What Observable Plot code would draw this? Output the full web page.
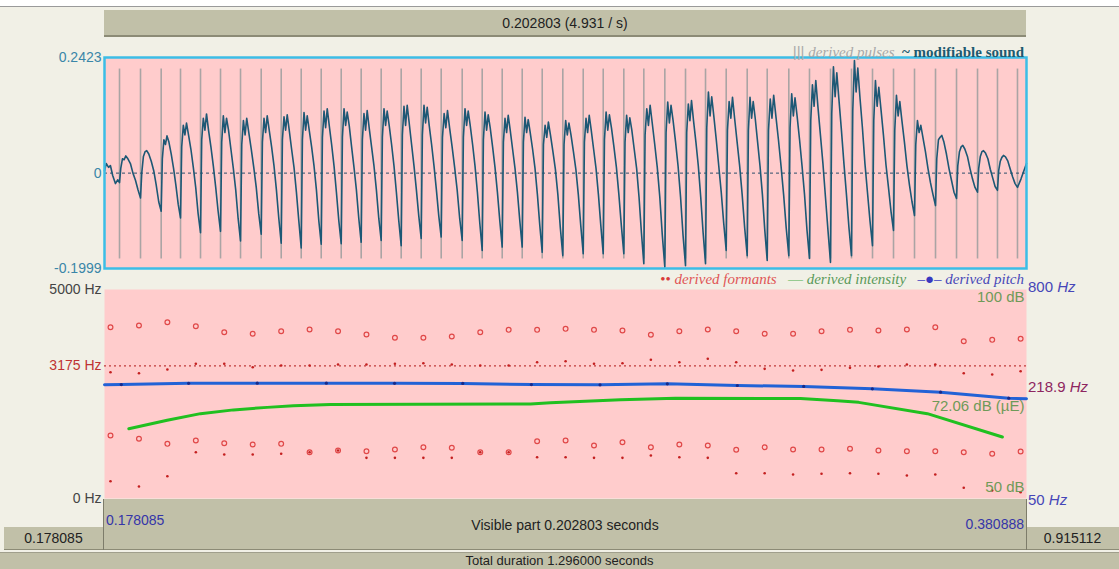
<!DOCTYPE html>
<html><head><meta charset="utf-8">
<script src="https://cdn.jsdelivr.net/npm/d3@7"></script>
<script src="https://cdn.jsdelivr.net/npm/@observablehq/plot@0.6"></script>
<style>
body{margin:0;background:#f1f0e6;font-family:"Liberation Sans",Arial,sans-serif;}
#root{position:relative;width:1119px;height:569px;overflow:hidden;background:#f1f0e6;}
#root svg{position:absolute;left:0;}
.box{position:absolute;background:#c1c0a8;}
.t{position:absolute;white-space:nowrap;font-size:14px;color:#222;}
.lg{position:absolute;white-space:nowrap;font-family:"Liberation Serif","Times New Roman",serif;font-size:15px;}
</style></head><body><div id="root"></div>
<script>
// ---- data (time in ms after the start of the visible part, 0.178085 s) ----
const visibleStart = 0.178085, visibleEnd = 0.380888, totalDuration = 1.296;
const visibleMs = 202.803;
const ampMax = 0.2423, ampMin = -0.1999;

const pulses = [3.30, 7.92, 12.47, 16.72, 21.12, 25.52, 29.92, 34.47, 38.87, 43.27, 47.67, 52.07, 56.46, 60.86, 65.26, 69.66, 74.06, 78.68, 83.08, 87.48, 91.88, 96.28, 100.81, 105.30, 109.70, 114.23, 118.63, 123.25, 127.80, 132.20, 136.75, 141.37, 145.77, 150.52, 155.07, 159.69, 164.31, 168.93, 173.55, 178.17, 182.79, 187.41, 192.03, 196.42, 200.82];

// sample positions inside one glottal period (fraction of the period)
const waveFrac = [0, 0.06, 0.14, 0.22, 0.30, 0.40, 0.52, 0.64, 0.76, 0.88];
const waveLead = [[0, 0.005], [0.4, 0.02], [0.9, 0.012], [1.3, 0.016], [1.8, -0.005], [2.4, -0.022], [2.9, -0.014]];
const wavePeriods = [
[-0.020,0.010,0.030,0.028,0.036,0.030,0.020,0.000,-0.015,-0.035],
[-0.052,0.000,0.035,0.045,0.047,0.040,0.025,0.005,-0.025,-0.060],
[-0.080,0.030,0.070,0.060,0.078,0.065,0.040,0.010,-0.025,-0.065],
[-0.094,0.055,0.100,0.080,0.105,0.080,0.050,0.012,-0.030,-0.085],
[-0.125,0.070,0.115,0.090,0.124,0.090,0.055,0.015,-0.030,-0.080],
[-0.122,0.065,0.120,0.085,0.115,0.090,0.050,0.010,-0.035,-0.095],
[-0.142,0.060,0.110,0.080,0.115,0.085,0.050,0.012,-0.030,-0.085],
[-0.128,0.065,0.115,0.085,0.120,0.090,0.055,0.015,-0.035,-0.095],
[-0.147,0.070,0.118,0.090,0.122,0.090,0.050,0.012,-0.040,-0.100],
[-0.157,0.070,0.127,0.090,0.120,0.090,0.055,0.015,-0.035,-0.100],
[-0.149,0.075,0.130,0.095,0.135,0.100,0.060,0.015,-0.040,-0.100],
[-0.148,0.075,0.135,0.100,0.128,0.100,0.055,0.012,-0.035,-0.095],
[-0.145,0.070,0.125,0.090,0.131,0.095,0.055,0.015,-0.035,-0.095],
[-0.141,0.075,0.135,0.100,0.130,0.100,0.060,0.015,-0.040,-0.100],
[-0.152,0.080,0.140,0.100,0.142,0.105,0.060,0.015,-0.035,-0.090],
[-0.137,0.080,0.142,0.105,0.138,0.100,0.060,0.015,-0.035,-0.090],
[-0.134,0.075,0.125,0.095,0.131,0.095,0.055,0.012,-0.035,-0.095],
[-0.141,0.075,0.135,0.100,0.130,0.100,0.060,0.015,-0.040,-0.105],
[-0.162,0.070,0.128,0.090,0.122,0.095,0.055,0.012,-0.040,-0.100],
[-0.155,0.065,0.115,0.085,0.121,0.090,0.050,0.010,-0.040,-0.100],
[-0.155,0.065,0.117,0.085,0.112,0.085,0.050,0.010,-0.045,-0.110],
[-0.166,0.060,0.100,0.075,0.107,0.080,0.045,0.008,-0.045,-0.115],
[-0.173,0.060,0.110,0.080,0.105,0.080,0.045,0.008,-0.045,-0.110],
[-0.169,0.065,0.115,0.085,0.121,0.090,0.050,0.010,-0.045,-0.110],
[-0.169,0.070,0.128,0.090,0.122,0.095,0.055,0.012,-0.045,-0.110],
[-0.169,0.065,0.121,0.085,0.116,0.090,0.050,0.010,-0.050,-0.125],
[-0.190,0.080,0.135,0.100,0.142,0.105,0.060,0.012,-0.050,-0.130],
[-0.197,0.085,0.149,0.105,0.142,0.110,0.065,0.015,-0.050,-0.130],
[-0.194,0.085,0.145,0.110,0.152,0.110,0.065,0.015,-0.050,-0.125],
[-0.190,0.095,0.170,0.120,0.160,0.120,0.070,0.015,-0.040,-0.105],
[-0.162,0.090,0.150,0.115,0.159,0.115,0.065,0.015,-0.045,-0.115],
[-0.173,0.090,0.159,0.115,0.150,0.115,0.065,0.015,-0.045,-0.120],
[-0.183,0.090,0.155,0.115,0.163,0.120,0.070,0.015,-0.045,-0.115],
[-0.173,0.095,0.166,0.120,0.158,0.120,0.070,0.015,-0.045,-0.120],
[-0.179,0.110,0.185,0.140,0.194,0.140,0.080,0.020,-0.050,-0.120],
[-0.187,0.125,0.223,0.160,0.210,0.155,0.090,0.020,-0.045,-0.115],
[-0.173,0.130,0.236,0.170,0.220,0.160,0.095,0.020,-0.040,-0.100],
[-0.152,0.110,0.194,0.140,0.180,0.135,0.080,0.018,-0.030,-0.080],
[-0.120,0.090,0.163,0.120,0.150,0.110,0.065,0.015,-0.025,-0.060],
[-0.089,0.060,0.110,0.085,0.100,0.075,0.045,0.010,-0.020,-0.045],
[-0.068,0.030,0.070,0.075,0.079,0.065,0.040,0.010,-0.015,-0.040],
[-0.053,0.015,0.045,0.055,0.058,0.050,0.035,0.010,-0.012,-0.030],
[-0.040,0.010,0.035,0.045,0.047,0.042,0.030,0.008,-0.010,-0.028],
[-0.036,0.005,0.025,0.033,0.037,0.034,0.025,0.008,-0.008,-0.022]
];
const waveTail = [[200.82, -0.030], [201.6, -0.012], [202.8, 0.020]];

const formantTimes = [1.32, 7.58, 13.83, 20.09, 26.34, 32.60, 38.86, 45.11, 51.37, 57.62, 63.88, 70.14, 76.39, 82.65, 88.90, 95.16, 101.42, 107.67, 113.93, 120.18, 126.44, 132.70, 138.95, 145.21, 151.46, 157.72, 163.98, 170.23, 176.49, 182.74, 189.00, 195.26, 201.51];
const formantHighCircles = [4098, 4138, 4217, 4121, 3978, 3940, 4002, 4042, 4002, 3923, 3844, 3844, 3875, 3978, 4035, 4035, 4059, 4035, 4019, 3916, 4002, 4042, 4002, 3940, 3940, 4002, 4035, 4019, 4042, 4098, 3763, 3796, 3820];
const formantMidDots = [3021, 2997, 3086, 3222, 3222, 3141, 3181, 3181, 3205, 3205, 3222, 3236, 3205, 3181, 3181, 3260, 3284, 3222, 3236, 3318, 3260, 3342, 3260, 3102, 3062, 3078, 3126, 3157, 3205, 3205, 2997, 2966, 3045];
const formantLowCircles = [1507, 1428, 1308, 1387, 1323, 1292, 1308, 1108, 1148, 1131, 1172, 1227, 1213, 1108, 1108, 1371, 1387, 1268, 1347, 1227, 1292, 1268, 1165, 1227, 1172, 1172, 1189, 1148, 1131, 1131, 1108, 1069, 1124];
const formantLowDots = [null, null, null, 1108, 1052, 1052, 1069, 1108, 1148, 973, 973, 973, 973, 1108, 1108, 988, 988, 973, 973, 1029, 988, 973, 605, 605, 574, 591, 605, 591, 550, 574, 256, 191, 151];
const formantBottomDots = [414, 287, 533, null, null, null, null, null, null, null, null, null, null, null, null, null, null, null, null, null, null, null, null, null, null, null, null, null, null, null, null, null, null];
const formantLine = 3175;

const pitchTimes = [0, 3.7, 18.5, 33.6, 48.8, 63.8, 78.8, 93.9, 109.0, 123.8, 139.2, 153.8, 168.9, 183.9, 198.9, 202.8];
const pitchHz = [226.0, 226.5, 230.5, 230.8, 230.8, 230.5, 230.0, 226.5, 226.0, 229.0, 223.9, 221.0, 214.3, 204.8, 189.2, 187.7];
const pitchMin = 50, pitchMax = 800, pitchCursor = 218.9;

const intensityTimes = [5.35, 13.79, 21.12, 28.37, 35.79, 41.57, 49.71, 93.70, 98.1, 113.5, 125.6, 153.1, 161.2, 165.9, 181.0, 197.5];
const intensityDb = [66.7, 68.7, 70.3, 71.2, 71.8, 72.2, 72.5, 72.6, 72.9, 73.6, 74.0, 73.9, 73.4, 73.0, 70.3, 64.7];
const dbMin = 50, dbMax = 100, dbMean = 72.06;

const waveTicks = [ampMin, 0, ampMax];
const freqTicks = [0, 5000];

// ---- build ----
const root = document.getElementById("root");
function el(cls, css, html) { const d = document.createElement("div"); d.className = cls; Object.assign(d.style, css); if (html != null) d.innerHTML = html; root.appendChild(d); return d; }

el("box", {left: "0px", top: "0px", width: "1119px", height: "6px", background: "#ffffff", borderBottom: "1px solid #9a9a9a"});
el("box", {left: "104px", top: "10px", width: "922px", height: "25px", borderBottom: "2px solid #8c8b76"});
el("t", {left: "104px", top: "10px", width: "922px", lineHeight: "26px", textAlign: "center"}, `${(visibleEnd - visibleStart).toFixed(6)} (${(1 / (visibleEnd - visibleStart)).toFixed(3)} / s)`);

const fontFam = "Liberation Sans, Arial, sans-serif";
const wave = [];
waveLead.forEach(([t, v]) => wave.push({t, v}));
wavePeriods.forEach((row, k) => {
  const a = pulses[k], b = pulses[k + 1];
  row.forEach((v, i) => wave.push({t: a + waveFrac[i] * (b - a), v}));
});
waveTail.forEach(([t, v]) => wave.push({t, v}));

const waveTop = 40;
const wavePlot = Plot.plot({
  width: 1119, height: 240, marginLeft: 104, marginRight: 93, marginTop: 17, marginBottom: 12,
  style: {background: "transparent", fontFamily: fontFam, overflow: "visible"},
  x: {domain: [0, visibleMs], axis: null},
  y: {domain: [ampMin, ampMax]},
  marks: [
    Plot.frame({fill: "#ffcccc"}),
    Plot.ruleX(pulses, {x: d => d, y1: ampMin * 0.9, y2: ampMax * 0.9, stroke: "#aaa4a4", strokeWidth: 1.6}),
    Plot.ruleY([0], {stroke: "#2d4d6a", strokeDasharray: "3,3"}),
    Plot.line(wave, {x: "t", y: "v", stroke: "#1d5875", strokeWidth: 1.6}),
    Plot.frame({stroke: "#3cbde6", strokeWidth: 2.5}),
    Plot.axisY(waveTicks, {label: null, tickSize: 0, tickPadding: 3, fontSize: 14, fill: "#3a86a8", tickFormat: d => d === 0 ? "0" : String(d)})
  ]
});
wavePlot.style.top = waveTop + "px";
root.appendChild(wavePlot);

el("lg", {right: "95px", top: "43px"}, `<span style="color:#aaa;font-family:'Liberation Sans',sans-serif">|||</span> <i style="color:#a8a8a8">derived pulses</i> &nbsp;<b style="color:#1d5a70">~ modifiable sound</b>`);

const specTop = 280;
const common = {width: 1119, height: 225, marginLeft: 104, marginRight: 93, marginTop: 9, marginBottom: 7};
const pts = (vals) => formantTimes.map((t, i) => ({t, f: vals[i]})).filter(d => d.f != null);
const specPlot = Plot.plot({
  ...common,
  style: {background: "transparent", fontFamily: fontFam, overflow: "visible"},
  x: {domain: [0, visibleMs], axis: null},
  y: {domain: [0, 5000]},
  marks: [
    Plot.frame({fill: "#ffcccc"}),
    Plot.ruleY([formantLine], {stroke: "#c03a3a", strokeDasharray: "2,3", strokeWidth: 1.2}),
    Plot.dot(pts(formantHighCircles), {x: "t", y: "f", r: 2.4, stroke: "#e04848", strokeWidth: 1.2}),
    Plot.dot(pts(formantLowCircles), {x: "t", y: "f", r: 2.4, stroke: "#e04848", strokeWidth: 1.2}),
    Plot.dot(pts(formantMidDots), {x: "t", y: "f", r: 1.3, fill: "#c42020", stroke: "none"}),
    Plot.dot(pts(formantLowDots), {x: "t", y: "f", r: 1.3, fill: "#c42020", stroke: "none"}),
    Plot.dot(pts(formantBottomDots), {x: "t", y: "f", r: 1.3, fill: "#c42020", stroke: "none"}),
    Plot.axisY(freqTicks, {label: null, tickSize: 0, tickPadding: 3, fontSize: 14, fill: "#444", tickFormat: d => d + " Hz"}),
    Plot.axisY([formantLine], {label: null, tickSize: 0, tickPadding: 3, fontSize: 14, fill: "#bf3333", tickFormat: d => d + " Hz"})
  ]
});
specPlot.style.top = specTop + "px";
root.appendChild(specPlot);

const intens = intensityTimes.map((t, i) => ({t, db: intensityDb[i]}));
const dbLabels = [{db: dbMax, s: "100 dB", a: "top", dy: 2}, {db: dbMean, s: "72.06 dB (µE)", a: "middle", dy: 0}, {db: dbMin, s: "50 dB", a: "bottom", dy: -7}];
const intPlot = Plot.plot({
  ...common,
  style: {background: "transparent", fontFamily: fontFam, overflow: "visible"},
  x: {domain: [0, visibleMs], axis: null},
  y: {domain: [dbMin, dbMax], axis: null},
  marks: [
    Plot.line(intens, {x: "t", y: "db", stroke: "#20c020", strokeWidth: 3}),
    ...dbLabels.map(l => Plot.text([l], {x: () => visibleMs, y: "db", text: "s", textAnchor: "end", lineAnchor: l.a, dx: -2, dy: l.dy, fontSize: 15, fill: "#6f9a58"}))
  ]
});
intPlot.style.top = specTop + "px";
root.appendChild(intPlot);

const pitch = pitchTimes.map((t, i) => ({t, hz: pitchHz[i]}));
const pitchPlot = Plot.plot({
  ...common,
  style: {background: "transparent", fontFamily: fontFam, overflow: "visible"},
  x: {domain: [0, visibleMs], axis: null},
  y: {type: "log", domain: [pitchMin, pitchMax], axis: null},
  marks: [
    Plot.line(pitch, {x: "t", y: "hz", stroke: "#2262d6", strokeWidth: 3}),
    Plot.dot(pitch.slice(1, -1), {x: "t", y: "hz", r: 1.6, fill: "#1a2a88"})
  ]
});
pitchPlot.style.top = specTop + "px";
root.appendChild(pitchPlot);

const py = pitchPlot.scale("y");
[[pitchMax, "#4646b8", -2], [pitchCursor, "#8e2660", 0], [pitchMin, "#4646b8", 2]].forEach(([v, c, off]) => {
  el("t", {left: "1028px", top: (specTop + py.apply(v) + off - 10) + "px", fontSize: "15px", color: c, lineHeight: "20px"}, `${v} <i>Hz</i>`);
});

el("lg", {right: "95px", top: "271px"}, `<span style="color:#d83a3a">••</span> <i style="color:#e05555">derived formants</i> &nbsp; <span style="color:#50b050">—</span> <i style="color:#5a9a5a">derived intensity</i> &nbsp; <span style="color:#3838c0">–●–</span> <i style="color:#4848b8">derived pitch</i>`);

// bottom bars
el("box", {left: "104px", top: "499px", width: "922px", height: "50px", borderBottom: "1px solid #8c8b76"});
el("box", {left: "4px", top: "527px", width: "99px", height: "22px", borderBottom: "1px solid #8c8b76"});
el("box", {left: "1026px", top: "527px", width: "93px", height: "22px", borderBottom: "1px solid #8c8b76"});
el("box", {left: "103px", top: "499px", width: "1px", height: "51px", background: "#7d7c6a"});
el("box", {left: "1026px", top: "499px", width: "1px", height: "51px", background: "#7d7c6a"});
el("t", {left: "106px", top: "512px", color: "#3535a8", fontSize: "14px"}, visibleStart.toFixed(6));
el("t", {right: "95px", top: "516px", color: "#3535a8", fontSize: "14px"}, visibleEnd.toFixed(6));
el("t", {left: "104px", width: "922px", top: "517px", textAlign: "center"}, `Visible part ${(visibleEnd - visibleStart).toFixed(6)} seconds`);
el("t", {left: "4px", width: "99px", top: "530px", textAlign: "center"}, visibleStart.toFixed(6));
el("t", {left: "1026px", width: "93px", top: "530px", textAlign: "center"}, (totalDuration - visibleEnd).toFixed(6));
el("box", {left: "0px", top: "552px", width: "1119px", height: "17px", borderTop: "1px solid #a09f8c"});
el("t", {left: "0px", width: "1119px", top: "553px", lineHeight: "15px", fontSize: "13px", textAlign: "center"}, `Total duration ${totalDuration.toFixed(6)} seconds`);
</script></body></html>
